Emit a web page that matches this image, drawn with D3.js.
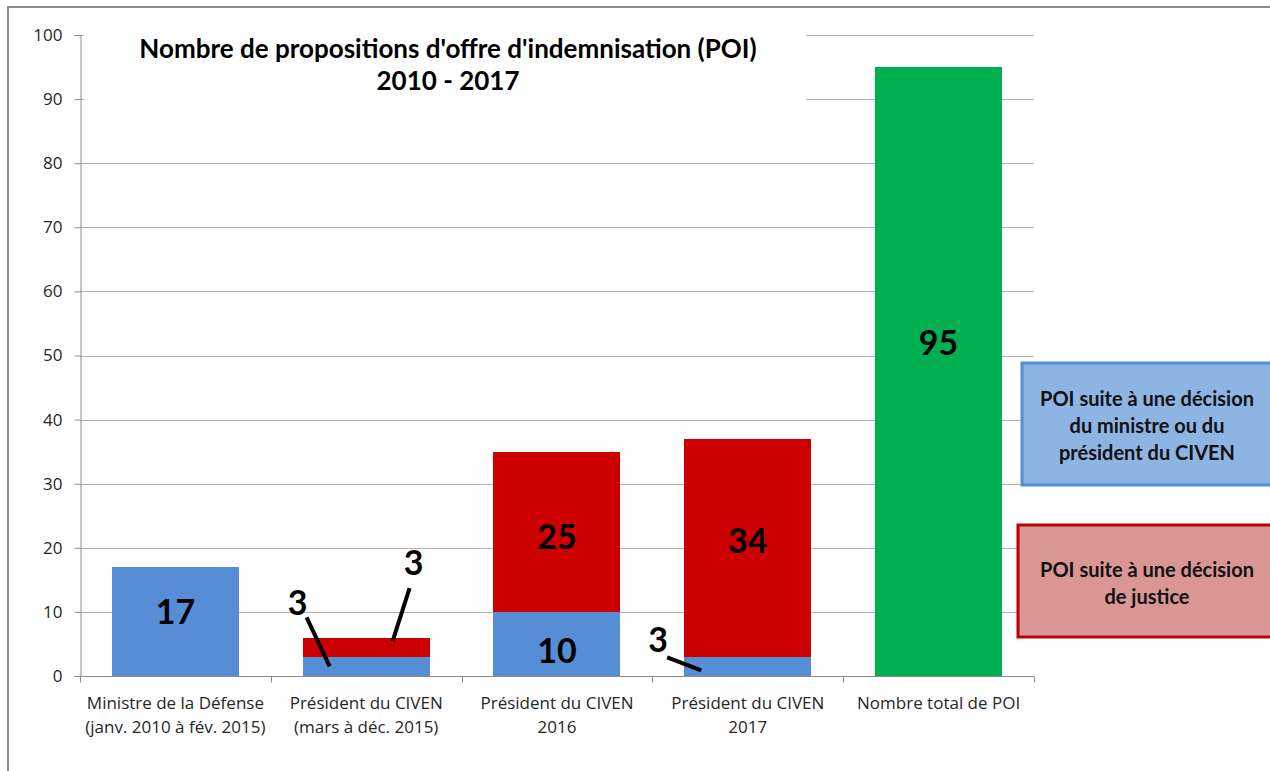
<!DOCTYPE html>
<html>
<head>
<meta charset="utf-8">
<script src="https://cdn.jsdelivr.net/npm/d3@7"></script>
<style>
    body { margin: 0; background: #fff; }
    svg { display: block; font-family: Lato, "Open Sans", sans-serif; }
</style>
</head>
<body>
<div id="chart"></div>
<script>
const categories = [
    ['Ministre de la Défense', '(janv. 2010 à fév. 2015)'],
    ['Président du CIVEN', '(mars à déc. 2015)'],
    ['Président du CIVEN', '2016'],
    ['Président du CIVEN', '2017'],
    ['Nombre total de POI']
];
const ministreValues = [17, 3, 10, 3, 0];
const justiceValues = [0, 3, 25, 34, 0];
const totalValues = [0, 0, 0, 0, 95];
const yTicks = [0, 10, 20, 30, 40, 50, 60, 70, 80, 90, 100];
const titleLines = ["Nombre de propositions d'offre d'indemnisation (POI)", '2010 - 2017'];
const legendItems = [
    { key: 'ministre', lines: ['POI suite à une décision', 'du ministre ou du', 'président du CIVEN'] },
    { key: 'justice', lines: ['POI suite à une décision', 'de justice'] }
];

const COLORS = { ministre: '#558ed5', justice: '#cc0000', total: '#00b050' };
const LEGEND_FILL = { ministre: '#8eb4e3', justice: '#d99694' };
const LEGEND_STROKE = { ministre: '#558ed5', justice: '#c00000' };

const width = 1270;
const height = 771;
const plot = { left: 80, right: 1034, top: 35, bottom: 676 };

const svg = d3.select('#chart').append('svg')
    .attr('width', width)
    .attr('height', height);

// outer frame (only top/left visible in the crop)
svg.append('path')
    .attr('d', `M8,${height + 5}V7H${width + 5}`)
    .attr('fill', 'none')
    .attr('stroke', '#8c8c8c')
    .attr('stroke-width', 2);

const x = d3.scaleBand()
    .domain(d3.range(categories.length))
    .range([plot.left, plot.right])
    .paddingInner(1 / 3)
    .paddingOuter(1 / 6);

const y = d3.scaleLinear()
    .domain([0, 100])
    .range([plot.bottom, plot.top]);

// gridlines
svg.append('g')
    .selectAll('line')
    .data(yTicks.filter((t) => t > 0))
    .join('line')
    .attr('x1', plot.left)
    .attr('x2', plot.right)
    .attr('y1', (d) => Math.round(y(d)) + 0.5)
    .attr('y2', (d) => Math.round(y(d)) + 0.5)
    .attr('stroke', '#b3b3b3')
    .attr('stroke-width', 1);

// y axis
const yAxis = svg.append('g')
    .attr('transform', `translate(${plot.left + 0.5},0)`)
    .call(d3.axisLeft(y).tickValues(yTicks).tickSize(6).tickPadding(12));
yAxis.select('.domain').attr('stroke', '#8c8c8c');
yAxis.selectAll('.tick line').attr('stroke', '#8c8c8c');
yAxis.selectAll('.tick text')
    .attr('fill', '#262626')
    .style('font-size', '17px')
    .style('font-family', '"Open Sans", sans-serif');

// title box (white fill hides the grid behind it)
svg.append('rect')
    .attr('x', 84).attr('y', 14)
    .attr('width', 722).attr('height', 92)
    .attr('fill', '#fff');

svg.append('g')
    .selectAll('text')
    .data(titleLines)
    .join('text')
    .attr('x', 448)
    .attr('y', (d, i) => 58 + i * 32)
    .attr('text-anchor', 'middle')
    .attr('font-weight', 700)
    .attr('font-size', 26)
    .attr('fill', '#000')
    .text((d) => d);

// stacked data
const rows = categories.map((c, i) => ({
    i,
    ministre: ministreValues[i],
    justice: justiceValues[i],
    total: totalValues[i]
}));
const stack = d3.stack().keys(['ministre', 'justice', 'total'])(rows);

const segments = svg.append('g').attr('shape-rendering', 'crispEdges');
stack.forEach((layer) => {
    segments.selectAll(null)
        .data(layer.filter((d) => d[1] > d[0]))
        .join('rect')
        .attr('x', (d) => Math.round(x(d.data.i)))
        .attr('y', (d) => Math.round(y(d[1])))
        .attr('width', Math.round(x.bandwidth()))
        .attr('height', (d) => Math.round(y(d[0])) - Math.round(y(d[1])))
        .attr('fill', COLORS[layer.key]);
});

// x axis
const xAxis = svg.append('g')
    .attr('transform', `translate(0,${plot.bottom + 0.5})`);
xAxis.append('line')
    .attr('x1', plot.left).attr('x2', plot.right)
    .attr('stroke', '#8c8c8c');
xAxis.selectAll('.sep')
    .data(d3.range(categories.length + 1))
    .join('line')
    .attr('class', 'sep')
    .attr('x1', (d) => Math.round(plot.left + d * x.step()) + 0.5)
    .attr('x2', (d) => Math.round(plot.left + d * x.step()) + 0.5)
    .attr('y1', 0).attr('y2', 6)
    .attr('stroke', '#8c8c8c');

const catLabels = xAxis.selectAll('.cat')
    .data(categories)
    .join('text')
    .attr('class', 'cat')
    .attr('text-anchor', 'middle')
    .attr('fill', '#262626')
    .style('font-size', '17px')
    .style('font-family', '"Open Sans", sans-serif');
catLabels.selectAll('tspan')
    .data((d, i) => d.map((line) => ({ line, i })))
    .join('tspan')
    .attr('x', (d) => x(d.i) + x.bandwidth() / 2)
    .attr('y', (d, j) => 32 + j * 24)
    .text((d) => d.line);

// data labels inside the bars (dy nudges match the hand-placed labels)
const innerLabels = [
    { key: 'ministre', i: 0, dy: -9 },
    { key: 'ministre', i: 2, dy: 7 },
    { key: 'justice', i: 2, dy: 5 },
    { key: 'justice', i: 3, dy: -7 },
    { key: 'total', i: 4, dy: -28 }
];
const layerByKey = Object.fromEntries(stack.map((l) => [l.key, l]));

svg.append('g')
    .selectAll('text')
    .data(innerLabels)
    .join('text')
    .attr('x', (d) => x(d.i) + x.bandwidth() / 2)
    .attr('y', (d) => {
        const seg = layerByKey[d.key][d.i];
        return y((seg[0] + seg[1]) / 2) + d.dy;
    })
    .attr('dy', '0.35em')
    .attr('text-anchor', 'middle')
    .attr('font-weight', 700)
    .attr('font-size', 34)
    .attr('fill', '#000')
    .text((d) => {
        const seg = layerByKey[d.key][d.i];
        return seg[1] - seg[0];
    });

// small segments: label outside with a leader line
// anchor = offset in px from the bar's left edge / segment middle, label = offset from anchor
const leaderLabels = [
    { key: 'ministre', i: 1, ax: 27, ay: 0, lx: -32, ly: -63, ex: -23, ey: -49 },
    { key: 'justice', i: 1, ax: 90, ay: -6, lx: 21, ly: -78, ex: 17, ey: -53 },
    { key: 'ministre', i: 3, ax: 17, ay: 4, lx: -43, ly: -30, ex: -34, ey: -13 }
];

const leaders = svg.append('g');
leaderLabels.forEach((d) => {
    const seg = layerByKey[d.key][d.i];
    const ax = x(d.i) + d.ax;
    const ay = y((seg[0] + seg[1]) / 2) + d.ay;
    leaders.append('line')
        .attr('x1', ax).attr('y1', ay)
        .attr('x2', ax + d.ex).attr('y2', ay + d.ey)
        .attr('stroke', '#000')
        .attr('stroke-width', 4);
    leaders.append('text')
        .attr('x', ax + d.lx)
        .attr('y', ay + d.ly)
        .attr('dy', '0.35em')
        .attr('text-anchor', 'middle')
        .attr('font-weight', 700)
        .attr('font-size', 34)
        .attr('fill', '#000')
        .text(seg[1] - seg[0]);
});

// legend boxes
const legendBoxes = [
    { x: 1022, y: 363, w: 252, h: 122, cy: 426 },
    { x: 1018, y: 525, w: 256, h: 112, cy: 583 }
];
legendItems.forEach((item, k) => {
    const box = legendBoxes[k];
    const g = svg.append('g');
    g.append('rect')
        .attr('x', box.x).attr('y', box.y)
        .attr('width', box.w).attr('height', box.h)
        .attr('fill', LEGEND_FILL[item.key])
        .attr('stroke', LEGEND_STROKE[item.key])
        .attr('stroke-width', 3);
    const n = item.lines.length;
    g.selectAll('text')
        .data(item.lines)
        .join('text')
        .attr('x', 1147)
        .attr('y', (d, j) => box.cy + (j - (n - 1) / 2) * 27)
        .attr('dy', '0.35em')
        .attr('text-anchor', 'middle')
        .attr('font-weight', 700)
        .attr('font-size', 20)
        .attr('fill', '#111')
        .text((d) => d);
});
</script>
</body>
</html>
